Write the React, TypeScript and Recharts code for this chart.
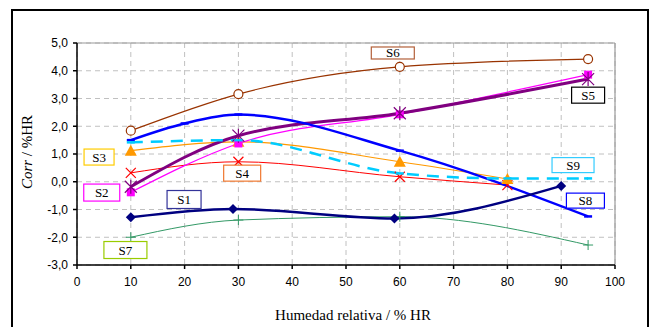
import { LineChart, Line, XAxis, YAxis, CartesianGrid, ReferenceDot, ReferenceLine } from 'recharts';

// humedad relativa (% HR) vs Corr (%/HR)
const s1 = [
  { hr: 10, corr: -1.28 },
  { hr: 29, corr: -0.98 },
  { hr: 59, corr: -1.32 },
  { hr: 90, corr: -0.15 },
];
const s2 = [
  { hr: 10, corr: -0.38 },
  { hr: 30, corr: 1.38 },
  { hr: 60, corr: 2.43 },
  { hr: 95, corr: 3.86 },
];
const s3 = [
  { hr: 10, corr: 1.12 },
  { hr: 30, corr: 1.44 },
  { hr: 60, corr: 0.72 },
  { hr: 80, corr: 0.1 },
];
const s4 = [
  { hr: 10, corr: 0.32 },
  { hr: 30, corr: 0.72 },
  { hr: 60, corr: 0.18 },
  { hr: 80, corr: -0.12 },
];
const s5 = [
  { hr: 10, corr: -0.18 },
  { hr: 30, corr: 1.66 },
  { hr: 60, corr: 2.47 },
  { hr: 95, corr: 3.7 },
];
const s6 = [
  { hr: 10, corr: 1.84 },
  { hr: 30, corr: 3.16 },
  { hr: 60, corr: 4.14 },
  { hr: 95, corr: 4.42 },
];
const s7 = [
  { hr: 10, corr: -2.0 },
  { hr: 30, corr: -1.38 },
  { hr: 60, corr: -1.26 },
  { hr: 95, corr: -2.28 },
];
const s8 = [
  { hr: 10, corr: 1.5 },
  { hr: 20, corr: 2.1 },
  { hr: 30, corr: 2.42 },
  { hr: 60, corr: 1.12 },
  { hr: 95, corr: -1.25 },
];
const s9 = [
  { hr: 10, corr: 1.42 },
  { hr: 30, corr: 1.5 },
  { hr: 60, corr: 0.3 },
  { hr: 80, corr: 0.12 },
  { hr: 95, corr: 0.12 },
];

const xTicks = [0, 10, 20, 30, 40, 50, 60, 70, 80, 90, 100];
const yTicks = [-3, -2, -1, 0, 1, 2, 3, 4, 5];

// series name tags placed in data units
const tags = [
  { name: 'S6', hr: 58.7, corr: 4.64, w: 43, h: 12, color: '#b3603a' },
  { name: 'S5', hr: 95.0, corr: 3.12, w: 33, h: 16, color: '#000000' },
  { name: 'S3', hr: 4.1, corr: 0.89, w: 30, h: 16, color: '#ffcc00' },
  { name: 'S2', hr: 4.6, corr: -0.39, w: 36, h: 17, color: '#ff00ff' },
  { name: 'S4', hr: 30.7, corr: 0.31, w: 37, h: 16, color: '#f07830' },
  { name: 'S1', hr: 19.9, corr: -0.64, w: 34, h: 18, color: '#333399' },
  { name: 'S7', hr: 9.0, corr: -2.46, w: 43, h: 17, color: '#99cc00' },
  { name: 'S9', hr: 92.2, corr: 0.6, w: 42, h: 15, color: '#33ccff' },
  { name: 'S8', hr: 94.5, corr: -0.68, w: 38, h: 15, color: '#0000ff' },
];

const diamond = (color: string) => (p: any) => (
  <path key={p.index} d={`M${p.cx},${p.cy - 5}L${p.cx + 5},${p.cy}L${p.cx},${p.cy + 5}L${p.cx - 5},${p.cy}Z`} fill={color} />
);
const square = (color: string) => (p: any) => (
  <rect key={p.index} x={p.cx - 4} y={p.cy - 4} width={8} height={8} fill={color} />
);
const triangle = (color: string) => (p: any) => (
  <path key={p.index} d={`M${p.cx},${p.cy - 6}L${p.cx + 6},${p.cy + 5}L${p.cx - 6},${p.cy + 5}Z`} fill={color} />
);
const cross = (color: string) => (p: any) => (
  <path key={p.index} d={`M${p.cx - 5},${p.cy - 5}L${p.cx + 5},${p.cy + 5}M${p.cx + 5},${p.cy - 5}L${p.cx - 5},${p.cy + 5}`} stroke={color} strokeWidth={1.2} />
);
const plus = (color: string) => (p: any) => (
  <path key={p.index} d={`M${p.cx - 5},${p.cy}L${p.cx + 5},${p.cy}M${p.cx},${p.cy - 5}L${p.cx},${p.cy + 5}`} stroke={color} strokeWidth={1} />
);
const star = (color: string) => (p: any) => (
  <path
    key={p.index}
    d={`M${p.cx - 6},${p.cy - 6}L${p.cx + 6},${p.cy + 6}M${p.cx + 6},${p.cy - 6}L${p.cx - 6},${p.cy + 6}M${p.cx},${p.cy - 7}L${p.cx},${p.cy + 7}`}
    stroke={color}
    strokeWidth={1.2}
  />
);
const circle = (color: string) => (p: any) => (
  <circle key={p.index} cx={p.cx} cy={p.cy} r={4.5} fill="#fff" stroke={color} strokeWidth={1.2} />
);
const dash = (color: string) => (p: any) => (
  <path key={p.index} d={`M${p.cx - 4},${p.cy}L${p.cx + 4},${p.cy}`} stroke={color} strokeWidth={2.5} />
);

const tagShape = (t: any) => (p: any) => (
  <g>
    <rect x={p.cx - t.w / 2} y={p.cy - t.h / 2} width={t.w} height={t.h} fill="#fff" stroke={t.color} strokeWidth={1.2} />
    <text x={p.cx} y={p.cy + 4.5} textAnchor="middle" fontFamily="Liberation Serif" fontSize={13} fill="#000">
      {t.name}
    </text>
  </g>
);

const fmt = (v: number) => v.toFixed(1).replace('.', ',');

export default function App() {
  return (
    <div style={{ position: 'absolute', left: 0, top: 0, width: 650, height: 327, overflow: 'hidden', background: '#fff' }}>
      <div style={{ position: 'absolute', left: 11, top: 9, width: 634, height: 340, border: '2px solid #000' }} />
      <div style={{ position: 'absolute', left: 0, top: 0 }}>
        <LineChart width={650} height={327} data={s1} margin={{ top: 43, right: 35, bottom: 32, left: 37 }}>
          <CartesianGrid stroke="#c0c0c0" strokeDasharray="5 4" />
          <ReferenceLine y={5} stroke="#999" strokeWidth={1.2} />
          <ReferenceLine x={100} stroke="#999" strokeWidth={1.2} />
          <XAxis
            type="number"
            dataKey="hr"
            domain={[0, 100]}
            ticks={xTicks}
            height={30}
            stroke="#000"
            strokeWidth={1.5}
            tickSize={4}
            tickMargin={8}
            tick={{ fontSize: 12, fill: '#000', fontFamily: 'Liberation Sans' }}
          />
          <YAxis
            type="number"
            domain={[-3, 5]}
            ticks={yTicks}
            width={40}
            stroke="#000"
            strokeWidth={1.5}
            tickSize={4}
            tickMargin={5}
            tickFormatter={fmt}
            tick={{ fontSize: 12, fill: '#000', fontFamily: 'Liberation Sans' }}
          />
          <Line data={s7} dataKey="corr" type="monotone" stroke="#339966" strokeWidth={1} dot={plus('#339966')} isAnimationActive={false} />
          <Line data={s4} dataKey="corr" type="monotone" stroke="#ff0000" strokeWidth={1} dot={cross('#ff0000')} isAnimationActive={false} />
          <Line data={s3} dataKey="corr" type="monotone" stroke="#ff9900" strokeWidth={1.2} dot={triangle('#ff9900')} isAnimationActive={false} />
          <Line data={s6} dataKey="corr" type="monotone" stroke="#993300" strokeWidth={1.2} dot={circle('#993300')} isAnimationActive={false} />
          <Line data={s2} dataKey="corr" type="monotone" stroke="#ff00ff" strokeWidth={1.2} dot={square('#ff00ff')} isAnimationActive={false} />
          <Line data={s5} dataKey="corr" type="monotone" stroke="#800080" strokeWidth={3} dot={star('#800080')} isAnimationActive={false} />
          <Line data={s8} dataKey="corr" type="monotone" stroke="#0000ff" strokeWidth={2.5} dot={dash('#0000ff')} isAnimationActive={false} />
          <Line data={s9} dataKey="corr" type="monotone" stroke="#00ccff" strokeWidth={2.5} strokeDasharray="12 8" dot={dash('#00ccff')} isAnimationActive={false} />
          <Line data={s1} dataKey="corr" type="monotone" stroke="#000080" strokeWidth={2.5} dot={diamond('#000080')} isAnimationActive={false} />
          {tags.map((t) => (
            <ReferenceDot key={t.name} x={t.hr} y={t.corr} r={0} shape={tagShape(t)} />
          ))}
        </LineChart>
      </div>
      <div
        style={{
          position: 'absolute',
          left: 27,
          top: 152,
          transform: 'translate(-50%, -50%) rotate(-90deg)',
          fontFamily: 'Liberation Serif',
          fontSize: 15,
          whiteSpace: 'nowrap',
        }}
      >
        <i>Corr</i> / %HR
      </div>
      <div
        style={{
          position: 'absolute',
          left: 353,
          top: 315,
          transform: 'translate(-50%, -50%)',
          fontFamily: 'Liberation Serif',
          fontSize: 15,
          whiteSpace: 'nowrap',
        }}
      >
        Humedad relativa / % HR
      </div>
    </div>
  );
}
